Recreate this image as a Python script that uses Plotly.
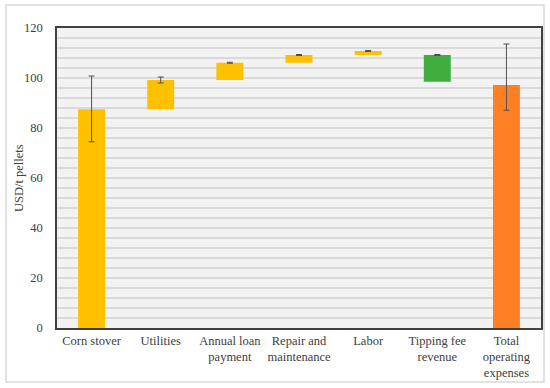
import plotly.graph_objects as go

categories = ["Corn stover", "Utilities", "Annual loan<br>payment", "Repair and<br>maintenance",
              "Labor", "Tipping fee<br>revenue", "Total<br>operating<br>expenses"]
bar_bottom = [0, 87.5, 99.2, 106.1, 109.2, 98.5, 0]
bar_top = [87.5, 99.2, 106.1, 109.2, 110.8, 109.2, 97.2]
err_plus = [13.3, 1.2, 0.2, 0.2, 0.2, 0.2, 16.4]
err_minus = [13.0, 1.2, 0.2, 0.2, 0.2, 0.2, 10.1]
colors = ["#FFC000", "#FFC000", "#FFC000", "#FFC000", "#FFC000", "#3FAE3F", "#FF7F27"]
y_ticks = [0, 20, 40, 60, 80, 100, 120]

heights = [t - b for t, b in zip(bar_top, bar_bottom)]

font_family = "Book Antiqua, Palatino Linotype, Palatino, Liberation Serif, serif"

fig = go.Figure()
fig.add_trace(go.Bar(
    x=categories, y=heights, base=bar_bottom,
    marker=dict(color=colors, line=dict(width=0)),
    width=0.39,
    error_y=dict(type="data", symmetric=False, array=err_plus, arrayminus=err_minus,
                 color="#505050", thickness=1, width=3),
    hoverinfo="skip",
))

W, H = 550, 388
ml, mr, mt, mb = 57, 9, 28, 60
pw, ph = W - ml - mr, H - mt - mb

def px_to_paper_x(px):
    return (px - ml) / pw

def px_to_paper_y(py):
    return (H - mb - py) / ph

fig.add_shape(type="rect", xref="paper", yref="paper",
              x0=px_to_paper_x(6), x1=px_to_paper_x(544),
              y0=px_to_paper_y(382), y1=px_to_paper_y(5),
              line=dict(color="#D9D9D9", width=1.5), fillcolor="rgba(0,0,0,0)", layer="below")

fig.add_annotation(text="USD/t pellets", xref="paper", yref="paper",
                   x=px_to_paper_x(19), y=0.5, textangle=-90, showarrow=False,
                   xanchor="center", yanchor="middle",
                   font=dict(size=12.5, color="#404040"))

fig.update_layout(
    width=W, height=H,
    margin=dict(l=ml, r=mr, t=mt, b=mb, autoexpand=False),
    paper_bgcolor="white",
    plot_bgcolor="#F2F2F2",
    showlegend=False,
    bargap=0.61,
    font=dict(family=font_family, size=12.5, color="#404040"),
    xaxis=dict(
        showgrid=False, showline=True, linecolor="#404040", linewidth=1.5, mirror=True,
        ticks="", tickfont=dict(size=12.5, color="#404040"), automargin=False,
        range=[-0.5, 6.5], fixedrange=True,
    ),
    yaxis=dict(
        range=[0, 120], tickvals=y_ticks, ticktext=[str(v) for v in y_ticks],
        showgrid=True, gridcolor="#DADADA", gridwidth=1.5,
        minor=dict(dtick=4, showgrid=True, gridcolor="#DADADA", gridwidth=1.5),
        showline=True, linecolor="#404040", linewidth=1.5, mirror=True,
        ticks="", ticklabelstandoff=10, zeroline=False, automargin=False,
        tickfont=dict(size=12.5, color="#404040"), fixedrange=True,
    ),
)

fig.write_html("out.html", config={"displayModeBar": False},
               post_script="document.body.style.margin='0';document.body.style.padding='0';")
